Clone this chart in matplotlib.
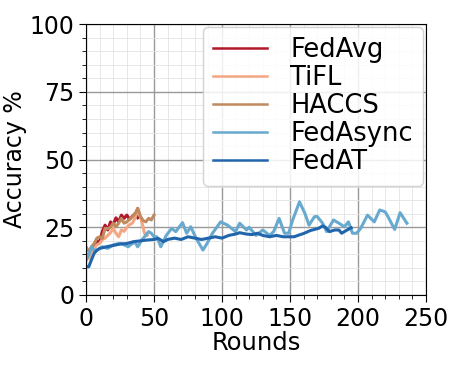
import matplotlib
matplotlib.use("Agg")
import matplotlib.pyplot as plt
from matplotlib.ticker import MultipleLocator

# values (round, accuracy %)
fedavg_x = [0, 2, 4, 6, 8, 10, 12, 14, 16, 18, 20, 22, 24, 26, 28, 30, 32, 34, 36, 38]
fedavg_y = [13, 15, 17, 18, 20, 19.5, 23.5, 25.8, 24, 27, 26, 28.5, 27, 29.5, 28.3, 29.5, 28, 29, 30, 28.5]

tifl_x = [0, 2, 4, 6, 8, 10, 12, 14, 16, 18, 20, 22, 24, 26, 28, 30, 32, 34, 36, 38, 40, 42, 43, 45]
tifl_y = [14.8, 13.5, 15.5, 17.2, 18.5, 19, 20.5, 21, 22, 23, 24.6, 22.8, 21.5, 24, 23.5, 25, 26, 26.5,
          28.3, 32, 29, 25, 22.8, 22]

haccs_x = [0, 2, 4, 6, 8, 10, 12, 14, 16, 18, 20, 22, 24, 26, 28, 30, 32, 34, 36, 38, 40, 42, 44, 46, 48, 50]
haccs_y = [17.8, 16, 17.8, 19, 21, 21.5, 20.9, 24.6, 24.5, 25, 26.5, 25.2, 26.5, 28.3, 26.5, 27, 28, 28.9,
           30, 32, 29, 27.5, 27, 28.3, 27.7, 29.5]

fedasync_x = [0, 2, 4, 6, 8, 12, 16, 20, 24, 26, 28, 31, 34, 36, 38, 41, 43, 46, 48, 50, 52, 55, 59, 63,
              66, 71, 74, 77, 81, 86, 89, 93, 99, 104, 110, 113, 118, 120, 125, 130, 135, 138, 142, 146,
              149, 152, 157, 161, 164, 168, 170, 174, 177, 182, 186, 190, 193, 196, 199, 202, 207, 212,
              216, 220, 222, 227, 231, 236]
fedasync_y = [13, 14.8, 17.8, 16.5, 16.6, 17.8, 17.2, 18.5, 19, 19, 18.5, 17.8, 19, 19.5, 17.8, 20.3, 21.5,
              23.4, 22.8, 21.5, 21.5, 17.8, 22, 24.6, 23.4, 26.7, 22.8, 25.2, 20.9, 16.6, 19, 22.8, 27,
              25.8, 23.4, 26.5, 24, 25, 22, 24, 22, 23.4, 28.3, 22.8, 22.8, 27.7, 34.4, 30.1, 25.8, 28.9,
              29, 26.5, 23.4, 27.7, 26.5, 25.2, 27, 22.8, 22.8, 24.6, 29.5, 27, 31.4, 30.7, 29, 24.2,
              30.4, 26.5]

fedat_x = [0, 2, 4, 6, 8, 10, 15, 20, 25, 30, 35, 40, 45, 50, 53, 57, 60, 65, 70, 75, 80, 85, 90, 95, 100,
           105, 110, 113, 118, 122, 126, 130, 135, 140, 145, 149, 153, 157, 160, 165, 171, 174, 176, 179,
           183, 186, 188, 192, 195]
fedat_y = [10.5, 10.4, 13, 15.4, 16.5, 17.2, 17.8, 18.3, 18.8, 19, 19.7, 20, 20.3, 20.5, 20.9, 19.7, 20.5,
           21, 20.5, 21.5, 21, 20.5, 21, 21.5, 21, 22, 22.5, 23, 22.5, 22.3, 22.8, 22, 21.5, 22, 21.5, 21.5,
           21.5, 22.2, 22.7, 23.8, 24.6, 25.5, 25, 23.4, 24, 24, 22.8, 24, 24.8]

series = [
    ("FedAvg", fedavg_x, fedavg_y, "#b2182b"),
    ("TiFL", tifl_x, tifl_y, "#f4a582"),
    ("HACCS", haccs_x, haccs_y, "#c08a5e"),
    ("FedAsync", fedasync_x, fedasync_y, "#67a9cf"),
    ("FedAT", fedat_x, fedat_y, "#2166ac"),
]

fig, ax = plt.subplots(figsize=(4.65, 3.72), dpi=100)
fig.subplots_adjust(left=0.185, right=0.916, bottom=0.207, top=0.935)

for name, xs, ys, col in series:
    ax.plot(xs, ys, color=col, lw=2.2, label=name)

ax.set_xlim(0, 250)
ax.set_ylim(0, 100)
ax.set_xticks([0, 50, 100, 150, 200, 250])
ax.set_yticks([0, 25, 50, 75, 100])
ax.xaxis.set_minor_locator(MultipleLocator(10))
ax.yaxis.set_minor_locator(MultipleLocator(5))
ax.tick_params(which='major', labelsize=17, length=5)
ax.tick_params(which='minor', length=3)
ax.grid(which='major', color='#999999', lw=1)
ax.grid(which='minor', color='#e3e3e3', lw=0.6)
ax.set_axisbelow(True)

ax.set_xlabel('Rounds', fontsize=17.5, labelpad=0)
ax.set_ylabel('Accuracy %', fontsize=17, labelpad=2)
leg = ax.legend(fontsize=18.5, loc='upper right', labelspacing=0.08, handlelength=2.1,
                handletextpad=0.9, borderaxespad=0.1, framealpha=0.85)
for line in leg.get_lines():
    line.set_linewidth(1.8)

plt.savefig("out.png")
